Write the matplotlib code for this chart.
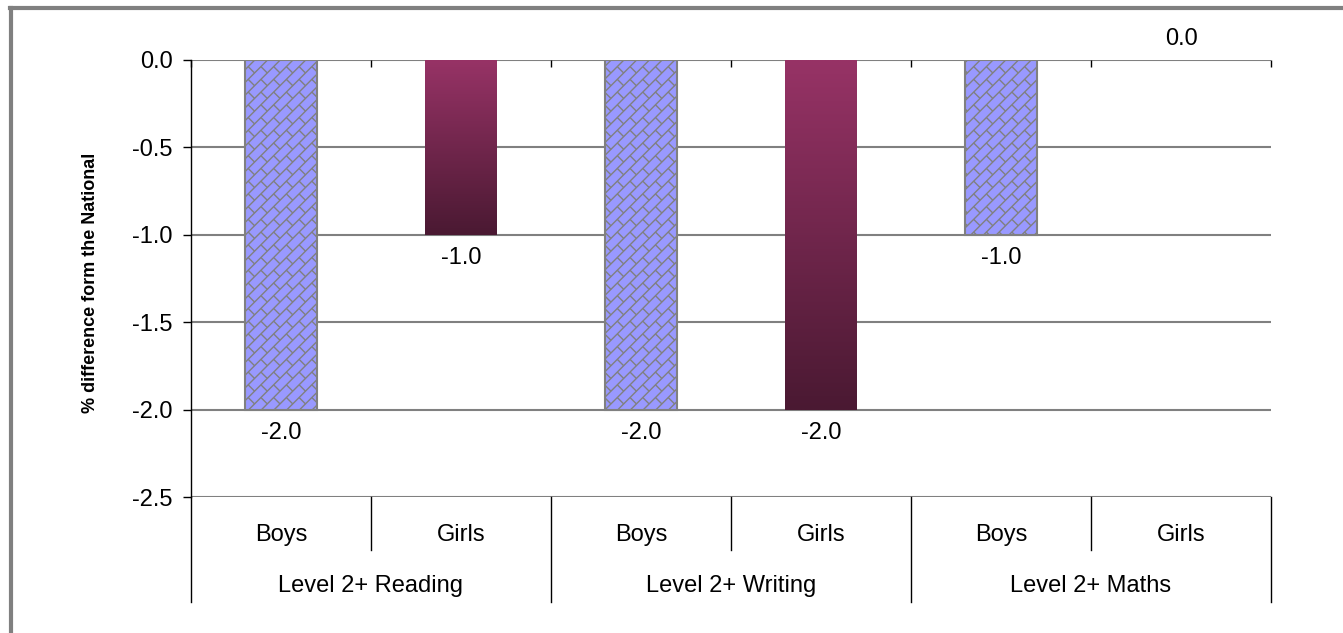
import matplotlib
matplotlib.use("Agg")
import matplotlib.pyplot as plt
import matplotlib.transforms as mtransforms
from matplotlib.colors import LinearSegmentedColormap
from matplotlib.collections import LineCollection
from matplotlib.lines import Line2D
import numpy as np

plt.rcParams['font.family'] = ['Liberation Sans', 'DejaVu Sans']

# data
subjects = ['Level 2+ Reading', 'Level 2+ Writing', 'Level 2+ Maths']
genders = ['Boys', 'Girls']
boys = [-2.0, -2.0, -1.0]
girls = [-1.0, -2.0, 0.0]
yticks = [0.0, -0.5, -1.0, -1.5, -2.0, -2.5]

FS = 17
W, H = 1343, 633
fig = plt.figure(figsize=(W / 100, H / 100), dpi=100)
ax = fig.add_axes([191 / W, (H - 497) / H, 1080 / W, 437 / H])

# outer chart frame (left and top edges)
fig.add_artist(Line2D([11 / W, 11 / W], [0, 1 - 8 / H], transform=fig.transFigure, color='#808080', lw=3))
fig.add_artist(Line2D([10 / W, 1], [1 - 8 / H, 1 - 8 / H], transform=fig.transFigure, color='#808080', lw=3))

ax.set_xlim(0, 6)
ax.set_ylim(-2.5, 0)

for y in yticks:
    ax.axhline(y, color='#808080', lw=1.5, zorder=1)


def brick_fill(bar, d=9.0, L=18.0):
    # diagonal brick pattern in pixel space, clipped to the bar
    x0, y0 = ax.transData.transform((bar.get_x(), bar.get_y()))
    x1, y1 = ax.transData.transform((bar.get_x() + bar.get_width(), bar.get_y() + bar.get_height()))
    xmin, xmax = min(x0, x1), max(x0, x1)
    ymin, ymax = min(y0, y1), max(y0, y1)
    uh = np.array([1.0, 1.0]) / np.sqrt(2)
    vh = np.array([-1.0, 1.0]) / np.sqrt(2)
    corners = np.array([[xmin, ymin], [xmin, ymax], [xmax, ymin], [xmax, ymax]])
    us = corners @ uh
    vs = corners @ vh
    segs = []
    k0, k1 = int(np.floor(vs.min() / d)) - 1, int(np.ceil(vs.max() / d)) + 1
    m0, m1 = int(np.floor(us.min() / L)) - 1, int(np.ceil(us.max() / L)) + 1
    for k in range(k0, k1):
        v = k * d
        segs.append([us.min() * uh + v * vh, us.max() * uh + v * vh])
        off = (k % 2) * L / 2
        for m in range(m0, m1):
            u = m * L + off
            segs.append([u * uh + v * vh, u * uh + (v + d) * vh])
    lc = LineCollection(segs, colors='#808080', linewidths=1.0, transform=mtransforms.IdentityTransform(), zorder=3)
    ax.add_collection(lc)
    lc.set_clip_path(bar)


grad_cmap = LinearSegmentedColormap.from_list('girls', ['#4a1932', '#973366'])
grad = np.linspace(0, 1, 256).reshape(-1, 1)

for i in range(len(subjects)):
    xb = 2 * i + 0.5
    xg = 2 * i + 1.5
    bb = ax.bar(xb, boys[i], width=0.4, color='#9999ff', edgecolor='none', zorder=2)
    brick_fill(bb[0])
    ax.bar(xb, boys[i], width=0.4, color='none', edgecolor='#808080', lw=1.5, zorder=4)
    bars = ax.bar(xg, girls[i], width=0.4, color='none', edgecolor='none', zorder=2)
    if girls[i] != 0:
        im = ax.imshow(grad, cmap=grad_cmap, aspect='auto', origin='lower',
                       extent=[xg - 0.2, xg + 0.2, girls[i], 0], zorder=2)
        im.set_clip_path(bars[0])
    for x, v in ((xb, boys[i]), (xg, girls[i])):
        if v < 0:
            ax.annotate(f'{v:.1f}', (x, v), xytext=(0, -9), textcoords='offset points',
                        ha='center', va='top', fontsize=FS)
        else:
            ax.annotate(f'{v:.1f}', (x, v), xytext=(0, 7), textcoords='offset points',
                        ha='center', va='bottom', fontsize=FS)

ax.set_xlim(0, 6)
ax.set_ylim(-2.5, 0)

# y axis
ax.set_yticks(yticks)
ax.set_yticklabels([f'{y:.1f}' for y in yticks], fontsize=FS)
ax.tick_params(axis='y', direction='out', length=6, width=1, pad=7)
ax.set_ylabel('% difference form the National', fontsize=13, fontweight='bold')
ax.yaxis.set_label_coords(-0.085, 0.49)

# category ticks hang down from the zero line
ax.xaxis.tick_top()
ax.set_xticks(range(7))
ax.tick_params(axis='x', direction='in', length=5, width=1, labeltop=False, labelbottom=False)

for s in ('top', 'right', 'bottom'):
    ax.spines[s].set_visible(False)
ax.spines['left'].set_color('black')
ax.spines['left'].set_linewidth(1)

# multi-level category axis below the plot
trans = mtransforms.blended_transform_factory(ax.transData, ax.transAxes)
ax.plot([0, 0], [0, -0.240], transform=trans, color='black', lw=1, clip_on=False)
for i, subj in enumerate(subjects):
    for j, g in enumerate(genders):
        ax.text(2 * i + j + 0.5, -0.088, g, transform=trans, ha='center', va='center', fontsize=FS)
    ax.plot([2 * i + 1, 2 * i + 1], [0, -0.121], transform=trans, color='black', lw=1, clip_on=False)
    ax.plot([2 * i + 2, 2 * i + 2], [0, -0.240], transform=trans, color='black', lw=1, clip_on=False)
    ax.text(2 * i + 1, -0.203, subj, transform=trans, ha='center', va='center', fontsize=FS)

fig.savefig('out.png', dpi=100)
